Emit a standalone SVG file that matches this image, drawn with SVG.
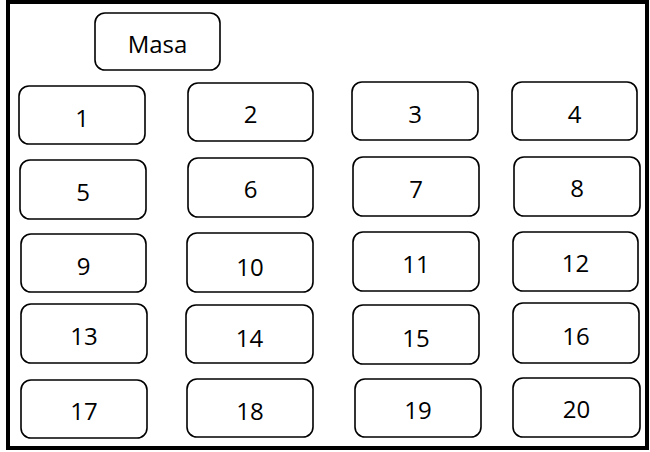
<svg xmlns="http://www.w3.org/2000/svg" width="650" height="452" viewBox="0 0 650 452">
<style>
.b{fill:#fff;stroke:#000;stroke-width:1.6}
.t{font-family:"Open Sans","Liberation Sans",sans-serif;font-size:24px;fill:#000;text-anchor:middle}
</style>
<rect x="0" y="0" width="650" height="452" fill="#fff"/>
<rect x="8" y="2" width="639" height="446" fill="none" stroke="#000" stroke-width="4"/>
<g id="connectors"></g>
<g id="masa"><rect class="b" x="95" y="13" width="125" height="57" rx="10"/><text class="t" x="157.5" y="53">Masa</text></g>
<g id="n1"><rect class="b" x="19" y="86" width="126" height="58" rx="10"/><text class="t" x="82" y="127">1</text></g>
<g id="n2"><rect class="b" x="188" y="83" width="125" height="58" rx="10"/><text class="t" x="250.5" y="123">2</text></g>
<g id="n3"><rect class="b" x="352" y="82" width="126" height="58" rx="10"/><text class="t" x="415" y="123">3</text></g>
<g id="n4"><rect class="b" x="512" y="82" width="125" height="58" rx="10"/><text class="t" x="574.5" y="123">4</text></g>
<g id="n5"><rect class="b" x="20" y="160" width="126" height="59" rx="10"/><text class="t" x="83" y="201">5</text></g>
<g id="n6"><rect class="b" x="188" y="158" width="125" height="59" rx="10"/><text class="t" x="250.5" y="198">6</text></g>
<g id="n7"><rect class="b" x="353" y="157" width="126" height="59" rx="10"/><text class="t" x="416" y="198">7</text></g>
<g id="n8"><rect class="b" x="514" y="157" width="126" height="59" rx="10"/><text class="t" x="577" y="197">8</text></g>
<g id="n9"><rect class="b" x="21" y="234" width="125" height="58" rx="10"/><text class="t" x="83.5" y="275">9</text></g>
<g id="n10"><rect class="b" x="187" y="233" width="126" height="59" rx="10"/><text class="t" x="250" y="276">10</text></g>
<g id="n11"><rect class="b" x="353" y="232" width="126" height="59" rx="10"/><text class="t" x="416" y="273">11</text></g>
<g id="n12"><rect class="b" x="513" y="232" width="125" height="59" rx="10"/><text class="t" x="575.5" y="272">12</text></g>
<g id="n13"><rect class="b" x="21" y="304" width="126" height="59" rx="10"/><text class="t" x="84" y="345">13</text></g>
<g id="n14"><rect class="b" x="186" y="305" width="127" height="58" rx="10"/><text class="t" x="249.5" y="347">14</text></g>
<g id="n15"><rect class="b" x="353" y="305" width="126" height="59" rx="10"/><text class="t" x="416" y="347">15</text></g>
<g id="n16"><rect class="b" x="513" y="303" width="126" height="60" rx="10"/><text class="t" x="576" y="345">16</text></g>
<g id="n17"><rect class="b" x="21" y="380" width="126" height="58" rx="10"/><text class="t" x="84" y="420">17</text></g>
<g id="n18"><rect class="b" x="187" y="379" width="126" height="58" rx="10"/><text class="t" x="250" y="420">18</text></g>
<g id="n19"><rect class="b" x="355" y="379" width="126" height="58" rx="10"/><text class="t" x="418" y="419">19</text></g>
<g id="n20"><rect class="b" x="513" y="378" width="127" height="59" rx="10"/><text class="t" x="576.5" y="418">20</text></g>
</svg>
